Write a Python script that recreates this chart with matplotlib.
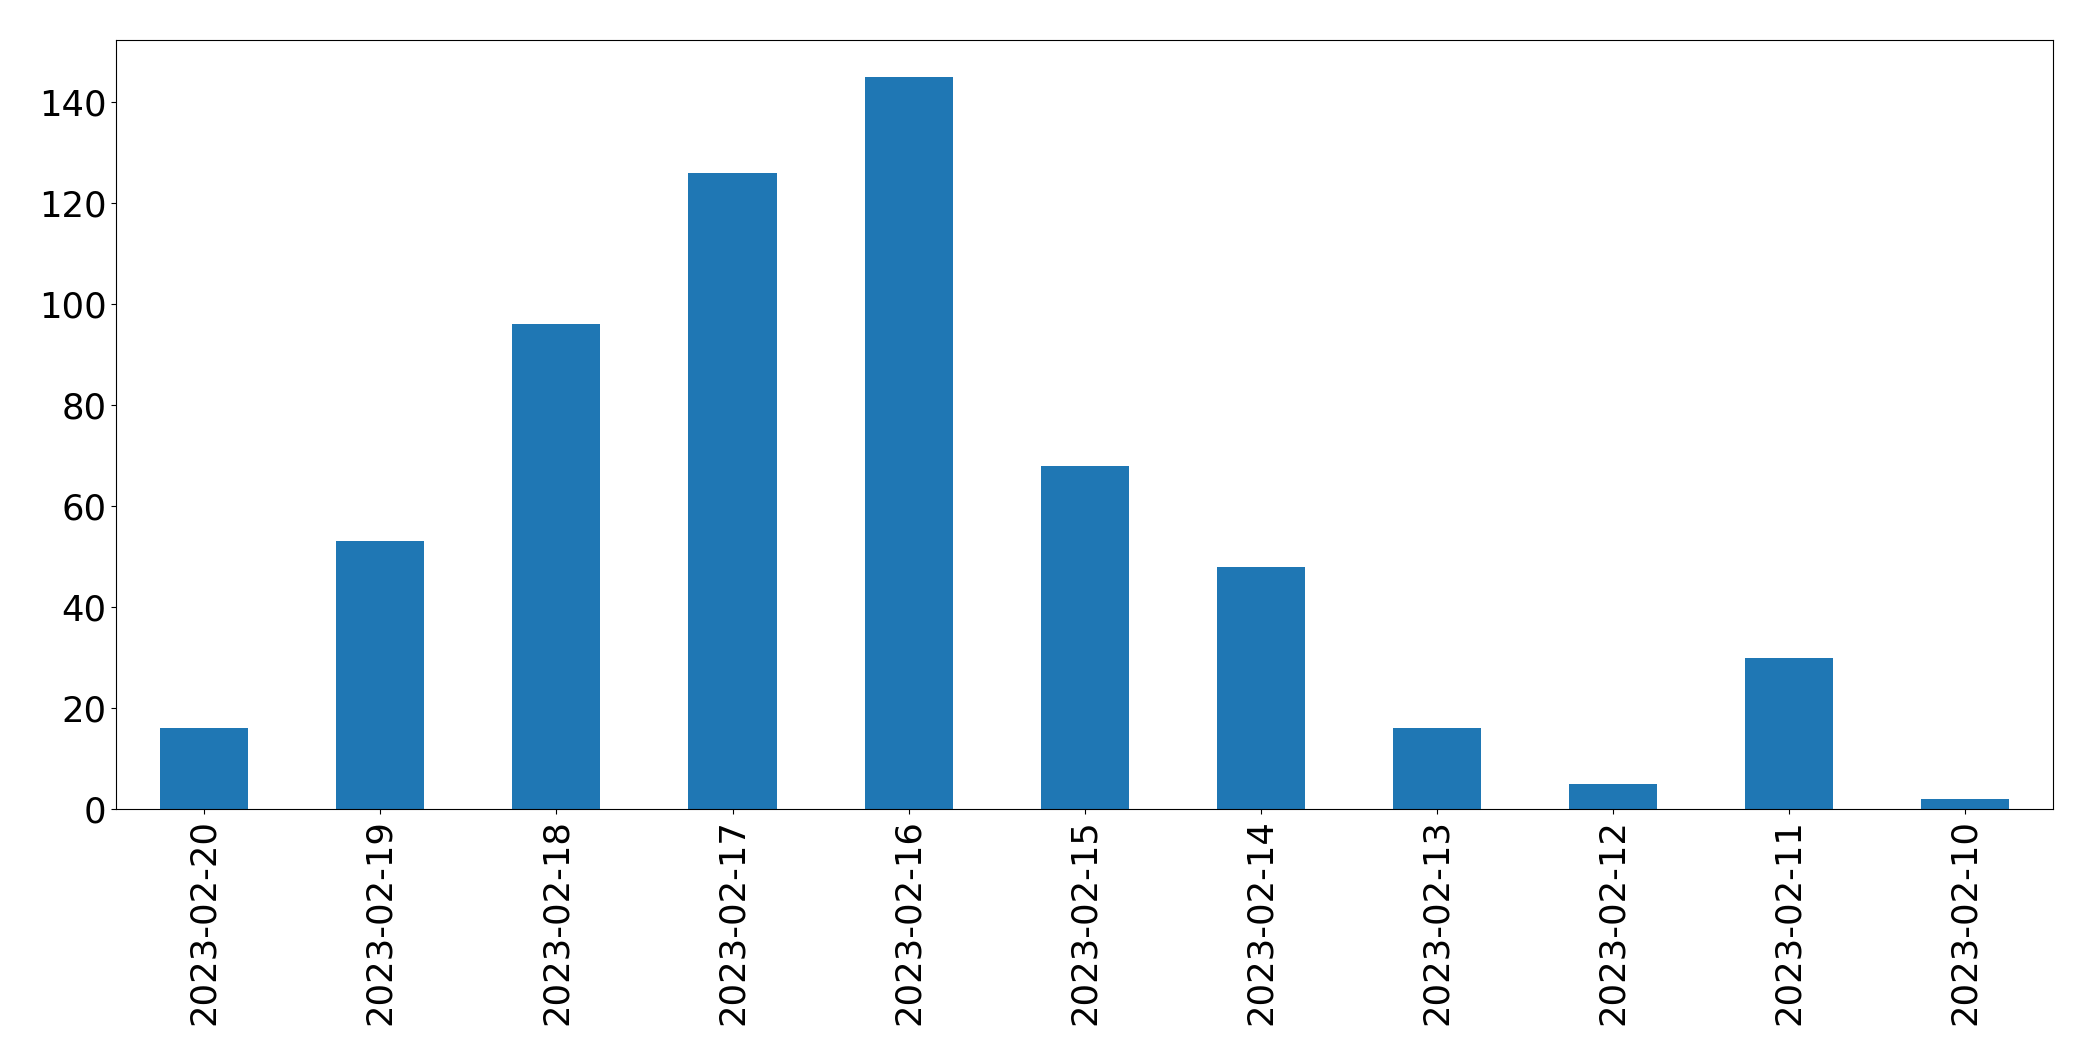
import matplotlib.pyplot as plt
import pandas as pd

# dates shown on x axis (newest first) and counts per day
dates = ["2023-02-20", "2023-02-19", "2023-02-18", "2023-02-17", "2023-02-16",
         "2023-02-15", "2023-02-14", "2023-02-13", "2023-02-12", "2023-02-11",
         "2023-02-10"]
counts = [16, 53, 96, 126, 145, 68, 48, 16, 5, 30, 2]

s = pd.Series(counts, index=dates)

fig, ax = plt.subplots(figsize=(20.93, 10.61), dpi=100)
s.plot.bar(ax=ax, color="#1f77b4")
ax.tick_params(axis="both", labelsize=25.5)
plt.subplots_adjust(left=0.0555, right=0.981, top=0.962, bottom=0.2375)

plt.savefig("out.png", dpi=100)
